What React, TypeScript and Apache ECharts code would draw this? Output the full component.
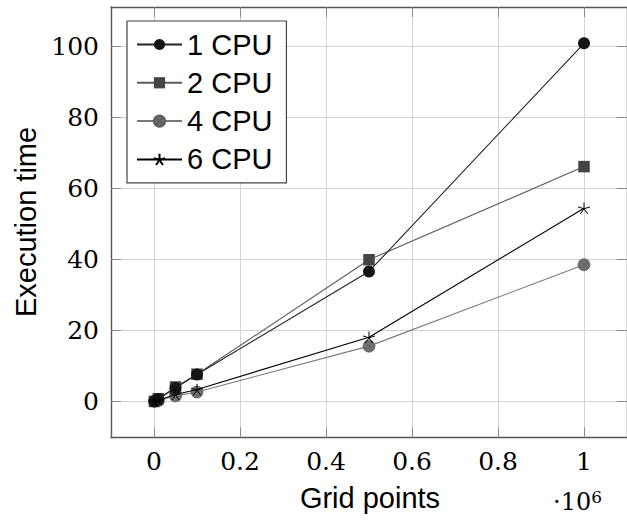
import React, { useEffect, useRef } from "react";
import * as echarts from "echarts";

const gridPoints = [1000, 10000, 50000, 100000, 500000, 1000000];
const cpu1 = [0.08, 0.75, 3.8, 7.6, 36.6, 100.8];
const cpu2 = [0.06, 0.8, 4.1, 7.7, 39.9, 66.1];
const cpu4 = [0.05, 0.35, 1.6, 2.7, 15.6, 38.5];
const cpu6 = [0.05, 0.4, 2.0, 3.4, 18.1, 54.4];
const xTicks = [0, 200000, 400000, 600000, 800000, 1000000];
const yTicks = [0, 20, 40, 60, 80, 100];
const seriesNames = ["1 CPU", "2 CPU", "4 CPU", "6 CPU"];

const otimes =
  "path://M20,10A10,10,0,1,1,0,10A10,10,0,1,1,20,10ZM2.93,2.93L17.07,17.07M17.07,2.93L2.93,17.07";
const star =
  "path://M10,10L10,0M10,10L19.51,6.91M10,10L15.88,18.09M10,10L4.12,18.09M10,10L0.49,6.91";

export default function App() {
  const ref = useRef<HTMLDivElement>(null);
  useEffect(() => {
    if (!ref.current) return;
    const chart = echarts.init(ref.current, null, { renderer: "svg" });
    const pairs = (ys: number[]) => gridPoints.map((x, i) => [x, ys[i]]);
    const serif = "DejaVu Serif";
    const sans = "Liberation Sans";
    const frame = { show: true, lineStyle: { color: "#555", width: 1.4 } };
    const tick = (vals: number[]) => ({
      show: true,
      inside: true,
      length: 10,
      customValues: vals,
      lineStyle: { color: "#888", width: 1 },
    });
    chart.setOption({
      animation: false,
      backgroundColor: "#fff",
      grid: { left: 111, top: 7, right: -2, bottom: 83.5, containLabel: false },
      xAxis: [
        {
          type: "value",
          min: -100000,
          max: 1100000,
          axisLine: { ...frame, onZero: false },
          axisTick: tick(xTicks),
          axisLabel: {
            customValues: xTicks,
            formatter: (v: number) => String(v / 1e6),
            fontFamily: serif,
            fontSize: 25,
            color: "#000",
            margin: 11,
          },
          splitLine: { show: true, lineStyle: { color: "#d2d2d2", width: 1 } },
        },
        {
          type: "value",
          position: "top",
          min: -100000,
          max: 1100000,
          axisLine: { ...frame, onZero: false },
          axisTick: tick(xTicks),
          axisLabel: { show: false, customValues: xTicks },
          splitLine: { show: false },
        },
      ],
      yAxis: [
        {
          type: "value",
          min: -10.1,
          max: 111,
          axisLine: { ...frame, onZero: false },
          axisTick: tick(yTicks),
          axisLabel: {
            customValues: yTicks,
            fontFamily: serif,
            fontSize: 25,
            color: "#000",
            margin: 12,
          },
          splitLine: { show: true, lineStyle: { color: "#d2d2d2", width: 1 } },
        },
        {
          type: "value",
          position: "right",
          min: -10.1,
          max: 111,
          axisLine: { ...frame, onZero: false },
          axisTick: tick(yTicks),
          axisLabel: { show: false, customValues: yTicks },
          splitLine: { show: false },
        },
      ],
      legend: {
        orient: "vertical",
        left: 127,
        top: 21,
        data: seriesNames,
        itemWidth: 45,
        itemHeight: 14,
        itemGap: 9.3,
        padding: [9, 14, 9, 9],
        backgroundColor: "#fff",
        borderColor: "#444",
        borderWidth: 1.2,
        borderRadius: 0,
        textStyle: { fontFamily: sans, fontSize: 29, lineHeight: 29, color: "#000" },
      },
      graphic: [
        {
          type: "text",
          x: 26,
          y: 222,
          rotation: Math.PI / 2,
          style: {
            text: "Execution time",
            fontFamily: sans,
            fontSize: 29,
            fill: "#000",
            textAlign: "center",
            textVerticalAlign: "middle",
          },
        },
        {
          type: "text",
          x: 370,
          y: 498,
          style: {
            text: "Grid points",
            fontFamily: sans,
            fontSize: 29,
            fill: "#000",
            textAlign: "center",
            textVerticalAlign: "middle",
          },
        },
        {
          type: "text",
          x: 553,
          y: 502,
          style: {
            text: "{a|·10}{b|6}",
            textAlign: "left",
            textVerticalAlign: "middle",
            rich: {
              a: { fontFamily: serif, fontSize: 24, lineHeight: 28, fill: "#000" },
              b: { fontFamily: serif, fontSize: 17, lineHeight: 17, verticalAlign: "top", fill: "#000" },
            },
          },
        },
      ],
      series: [
        {
          name: "1 CPU",
          type: "line",
          data: pairs(cpu1),
          symbol: "circle",
          symbolSize: 12,
          itemStyle: { color: "#151515" },
          lineStyle: { color: "#222", width: 1.1 },
          z: 4,
        },
        {
          name: "2 CPU",
          type: "line",
          data: pairs(cpu2),
          symbol: "rect",
          symbolSize: 11.5,
          itemStyle: { color: "#444" },
          lineStyle: { color: "#5a5a5a", width: 1.1 },
          z: 3,
        },
        {
          name: "4 CPU",
          type: "line",
          data: pairs(cpu4),
          symbol: otimes,
          symbolSize: 12,
          symbolKeepAspect: true,
          itemStyle: { color: "#707070", borderColor: "#5c5c5c", borderWidth: 0.8 },
          lineStyle: { color: "#777", width: 1.1 },
          z: 2,
        },
        {
          name: "6 CPU",
          type: "line",
          data: pairs(cpu6),
          symbol: star,
          symbolSize: 12,
          symbolKeepAspect: true,
          itemStyle: { color: "#000", borderColor: "#000", borderWidth: 1 },
          lineStyle: { color: "#000", width: 1.1 },
          z: 5,
        },
      ],
    });
    return () => chart.dispose();
  }, []);
  return (
    <div
      ref={ref}
      style={{ position: "absolute", left: 0, top: 0, width: 627, height: 521 }}
    />
  );
}
